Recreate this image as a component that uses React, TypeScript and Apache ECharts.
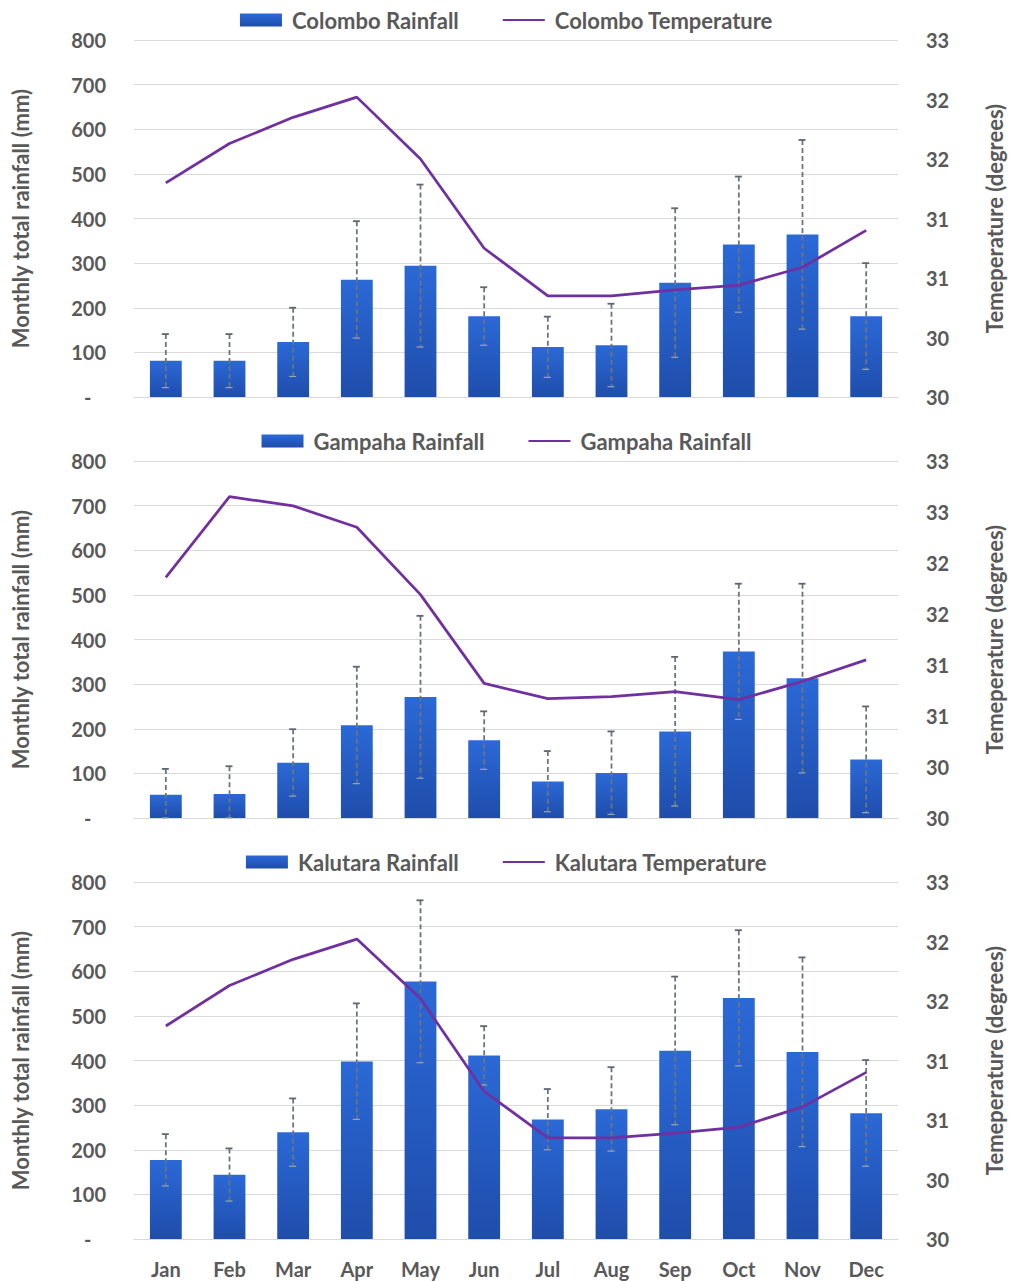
import React, { useEffect, useRef } from "react";
import * as echarts from "echarts";

const months = ["Jan", "Feb", "Mar", "Apr", "May", "Jun", "Jul", "Aug", "Sep", "Oct", "Nov", "Dec"];

const colomboRain = [81, 81, 123, 263, 294, 181, 112, 116, 256, 342, 364, 181];
const colomboRainSd = [60, 60, 77, 131, 182, 65, 68, 93, 167, 152, 212, 119];
const colomboTemp = [31.3, 31.63, 31.85, 32.02, 31.5, 30.75, 30.35, 30.35, 30.4, 30.44, 30.59, 30.9];

const gampahaRain = [52, 54, 124, 208, 271, 174, 82, 101, 194, 373, 313, 131];
const gampahaRainSd = [58, 62, 75, 131, 182, 65, 68, 93, 167, 152, 212, 119];
const gampahaTemp = [31.86, 32.65, 32.56, 32.35, 31.69, 30.82, 30.67, 30.69, 30.74, 30.66, 30.84, 31.05];

const kalutaraRain = [177, 144, 239, 398, 577, 411, 268, 291, 422, 540, 419, 282];
const kalutaraRainSd = [58, 59, 76, 130, 182, 66, 68, 94, 166, 152, 212, 119];
const kalutaraTemp = [31.29, 31.63, 31.85, 32.02, 31.52, 30.74, 30.35, 30.35, 30.39, 30.44, 30.61, 30.9];

const panelNames = [
  ["Colombo Rainfall", "Colombo Temperature"],
  ["Gampaha Rainfall", "Gampaha Temperature"],
  ["Kalutara Rainfall", "Kalutara Temperature"],
];
const legendLabels: Record<string, string> = {
  "Colombo Rainfall": "Colombo Rainfall",
  "Colombo Temperature": "Colombo Temperature",
  "Gampaha Rainfall": "Gampaha Rainfall",
  "Gampaha Temperature": "Gampaha Rainfall",
  "Kalutara Rainfall": "Kalutara Rainfall",
  "Kalutara Temperature": "Kalutara Temperature",
};
const tempMax = [32.5, 33, 32.5];
const tempMin = 29.5;
const leftTitle = "Monthly total rainfall (mm)";
const rightTitle = "Temeperature (degrees)";

const FONT = "Lato, 'Open Sans', sans-serif";
const TXT = "#595959";

export default function App() {
  const ref = useRef<HTMLDivElement>(null);
  useEffect(() => {
    if (!ref.current) return;
    const chart = echarts.init(ref.current, undefined, { renderer: "svg" });
    const rains = [colomboRain, gampahaRain, kalutaraRain];
    const sds = [colomboRainSd, gampahaRainSd, kalutaraRainSd];
    const temps = [colomboTemp, gampahaTemp, kalutaraTemp];
    const tops = [40, 461, 882];
    const gridH = 357;

    const barColor = new echarts.graphic.LinearGradient(0, 0, 0, 1, [
      { offset: 0, color: "#2b69d7" },
      { offset: 1, color: "#1f4dab" },
    ]);

    const grids: any[] = [];
    const xAxes: any[] = [];
    const yAxes: any[] = [];
    const legends: any[] = [];
    const series: any[] = [];

    for (let p = 0; p < 3; p++) {
      grids.push({ left: 134, right: 108, top: tops[p], height: gridH });
      xAxes.push({
        type: "category",
        gridIndex: p,
        data: months,
        boundaryGap: true,
        axisLine: { show: true, lineStyle: { color: "#d9d9d9", width: 1 } },
        axisTick: { show: false },
        axisLabel: {
          show: p === 2,
          color: TXT,
          fontFamily: FONT,
          fontWeight: "bold",
          fontSize: 20,
          margin: 20,
        },
      });
      yAxes.push({
        type: "value",
        gridIndex: p,
        min: 0,
        max: 800,
        interval: 100,
        position: "left",
        axisLine: { show: false },
        axisTick: { show: false },
        splitLine: { show: true, lineStyle: { color: "#d9d9d9", width: 1 } },
        axisLabel: {
          color: TXT,
          fontFamily: FONT,
          fontWeight: "bold",
          fontSize: 20,
          margin: 28,
          formatter: (v: number) => (v === 0 ? "-   " : String(v)),
        },
        name: leftTitle,
        nameLocation: "middle",
        nameRotate: 90,
        nameGap: 103,
        nameTextStyle: { color: TXT, fontFamily: FONT, fontSize: 22, fontWeight: "bold" },
      });
      yAxes.push({
        type: "value",
        gridIndex: p,
        min: tempMin,
        max: tempMax[p],
        interval: 0.5,
        position: "right",
        axisLine: { show: false },
        axisTick: { show: false },
        splitLine: { show: false },
        axisLabel: {
          color: TXT,
          fontFamily: FONT,
          fontWeight: "bold",
          fontSize: 20,
          margin: 28,
          formatter: (v: number) => String(Math.round(v)),
        },
        name: rightTitle,
        nameLocation: "middle",
        nameRotate: 90,
        nameGap: 85,
        nameTextStyle: { color: TXT, fontFamily: FONT, fontSize: 22, fontWeight: "bold" },
      });
      legends.push({
        top: tops[p] - 36,
        left: "center",
        data: [
          { name: panelNames[p][0], icon: "rect" },
          { name: panelNames[p][1], itemStyle: { opacity: 0 } },
        ],
        itemWidth: 42,
        itemHeight: 13,
        itemGap: 43,
        formatter: (n: string) => legendLabels[n] || n,
        textStyle: { color: TXT, fontFamily: FONT, fontWeight: "bold", fontSize: 22, padding: [0, 0, 0, 5] },
      });
      series.push({
        type: "bar",
        name: panelNames[p][0],
        xAxisIndex: p,
        yAxisIndex: p * 2,
        data: rains[p],
        barWidth: "50%",
        itemStyle: { color: barColor },
        z: 2,
      });
      series.push({
        type: "custom",
        name: "err" + p,
        xAxisIndex: p,
        yAxisIndex: p * 2,
        z: 3,
        encode: { x: 0, y: [1, 2] },
        data: rains[p].map((v, i) => [i, v - sds[p][i], v + sds[p][i]]),
        renderItem: (params: any, api: any) => {
          const x = api.value(0);
          const lo = Math.max(0, api.value(1));
          const hi = api.value(2);
          const t = api.coord([x, hi]);
          const b = api.coord([x, lo]);
          const cx = t[0];
          return {
            type: "group",
            children: [
              {
                type: "line",
                shape: { x1: cx, y1: t[1], x2: cx, y2: b[1] },
                style: { stroke: "#6c7480", lineWidth: 1.8, lineDash: [5, 3] },
              },
              {
                type: "line",
                shape: { x1: cx - 4, y1: t[1], x2: cx + 3, y2: t[1] },
                style: { stroke: "#5f6772", lineWidth: 1.8 },
              },
              {
                type: "line",
                shape: { x1: cx - 4, y1: b[1], x2: cx + 3, y2: b[1] },
                style: { stroke: "#9aa6b6", lineWidth: 1.2 },
              },
            ],
          };
        },
      });
      series.push({
        type: "line",
        name: panelNames[p][1],
        xAxisIndex: p,
        yAxisIndex: p * 2 + 1,
        data: temps[p],
        symbol: "none",
        lineStyle: { color: "#7030a0", width: 2.75 },
        itemStyle: { color: "#7030a0" },
        z: 4,
      });
    }

    chart.setOption({
      animation: false,
      backgroundColor: "#ffffff",
      grid: grids,
      xAxis: xAxes,
      yAxis: yAxes,
      legend: legends,
      series,
    });
    return () => chart.dispose();
  }, []);
  return (
    <div
      ref={ref}
      style={{ position: "fixed", left: 0, top: 0, width: 1013, height: 1281 }}
    />
  );
}
